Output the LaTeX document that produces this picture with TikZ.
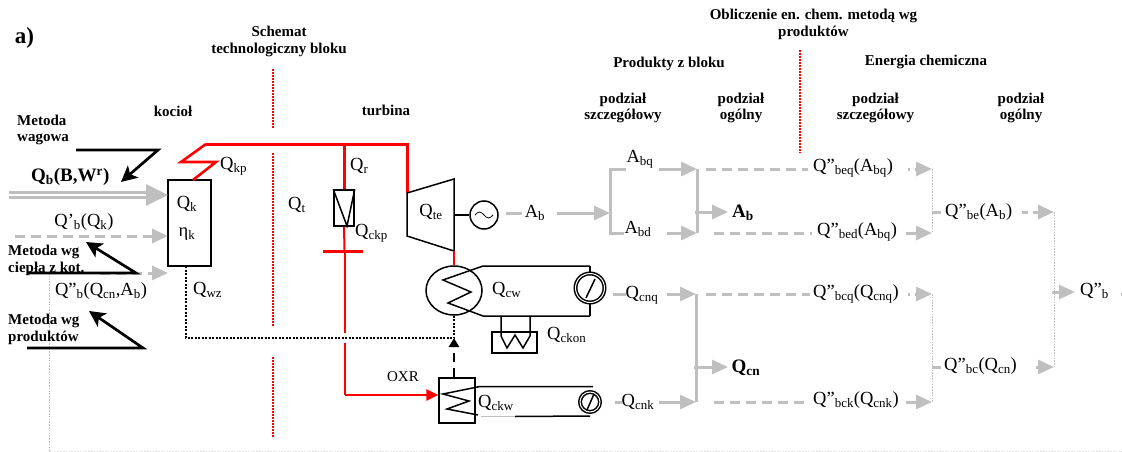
\documentclass[tikz,border=0pt]{standalone}
\usepackage{fontspec}
\setmainfont{Liberation Serif}
\usetikzlibrary{arrows.meta,shapes.geometric}
\definecolor{lightbar}{HTML}{BFBFBF}
\definecolor{hotline}{HTML}{FF0000}
\tikzset{
	lab/.style={font=\fontsize{18.5}{18.5}\selectfont, inner sep=0pt},
	labb/.style={font=\bfseries\fontsize{19}{19}\selectfont, inner sep=0pt},
	head/.style={font=\bfseries\fontsize{15}{16.5}\selectfont, align=center, inner sep=0pt},
	headl/.style={font=\bfseries\fontsize{15}{16.5}\selectfont, align=left, inner sep=0pt, anchor=west},
	bar/.style={lightbar, line width=3pt},
	barto/.style={bar, -{Triangle[length=16pt,width=14pt]}},
	dbar/.style={bar, dash pattern=on 10pt off 6pt},
	dbarto/.style={dbar, -{Triangle[length=16pt,width=14pt]}},
	dots/.style={lightbar, line width=1pt, dash pattern=on 1.6pt off 1.2pt},
	sep/.style={hotline, line width=2.2pt, dash pattern=on 2pt off 1pt},
	ink/.style={black, line width=1.5pt},
	pointer/.style={black, line width=2.7pt, -{Stealth[length=16pt,width=16pt,inset=4pt]}},
	steam/.style={hotline, line width=3pt},
	hot/.style={hotline, line width=2pt},
	dotline/.style={black, line width=1.5pt, dash pattern=on 2pt off 1.5pt},
}
\begin{document}
\begin{tikzpicture}[x=1pt, y=-1pt]
	\useasboundingbox (0,0) rectangle (1122,452);
	% headers
	\node[font=\bfseries\fontsize{23}{23}\selectfont, inner sep=0pt] (part) at (24.5,38) {a)};
	\node[head] (hschem) at (279,41.5) {Schemat\\technologiczny bloku};
	\node[head] (hcalc) at (813.5,24.5) {Obliczenie en. chem. metodą wg\\produktów};
	\node[head] (hprod) at (669,64) {Produkty z bloku};
	\node[head] (henergy) at (926,61.5) {Energia chemiczna};
	\node[head] (hboil) at (173,111) {kocioł};
	\node[head] (hturb) at (386,110) {turbina};
	\node[head] (hd1) at (623,108) {podział\\szczegółowy};
	\node[head] (hg1) at (741,108) {podział\\ogólny};
	\node[head] (hd2) at (875.5,108) {podział\\szczegółowy};
	\node[head] (hg2) at (1021,108) {podział\\ogólny};
	% red separators
	\coordinate (s1a) at (273,69);
	\coordinate (s1b) at (273,128);
	\coordinate (s2a) at (273,153);
	\coordinate (s2b) at (273,327);
	\coordinate (s3a) at (273,357);
	\coordinate (s3b) at (273,437);
	\coordinate (s4a) at (800,50);
	\coordinate (s4b) at (800,153);
	\draw[sep] (s1a) -- (s1b);
	\draw[sep] (s2a) -- (s2b);
	\draw[sep] (s3a) -- (s3b);
	\draw[sep] (s4a) -- (s4b);
	% boiler
	\node[draw, ink, minimum width=43pt, minimum height=86pt, inner sep=0pt] (boiler) at (189.5,223) {};
	\node[lab] (qk) at (187,204) {Q\textsubscript{k}};
	\node[lab] (eta) at (187,234) {η\textsubscript{k}};
	\node[lab, anchor=west] (qkp) at (220,166) {Q\textsubscript{kp}};
	\node[lab, anchor=west] (qwz) at (193,290) {Q\textsubscript{wz}};
	\node[lab, anchor=west] (qr) at (350,166) {Q\textsubscript{r}};
	\node[lab, anchor=west] (qt) at (288,205) {Q\textsubscript{t}};
	\node[lab, anchor=west] (qckp) at (355,233) {Q\textsubscript{ckp}};
	% fuel inputs
	\node[labb, anchor=west] (qbw) at (31,177) {Q\textsubscript{b}(B,W\textsuperscript{r})};
	\node[lab] (qbp) at (84,222) {Q’\textsubscript{b}(Q\textsubscript{k})};
	\node[lab] (qbpp) at (101,291) {Q”\textsubscript{b}(Q\textsubscript{cn},A\textsubscript{b})};
	\coordinate (in1) at (9,195);
	\coordinate (in1t) at (147,195);
	\coordinate (in1e) at (168,195);
	\coordinate (in2) at (15,236);
	\coordinate (in2e) at (168,236);
	\coordinate (in3) at (100,273);
	\coordinate (in3e) at (168,273);
	\draw[lightbar, line width=3pt, double=white, double distance=1.2pt] (in1) -- (in1t);
	\draw[bar, -{Triangle[length=22pt,width=21pt]}] (in1t) -- (in1e);
	\draw[dbarto] (in2) -- (in2e);
	\draw[dbarto] (in3) -- (in3e);
	% gray frame of the last balance
	\coordinate (fr1) at (49,273);
	\coordinate (fr2) at (49,451);
	\coordinate (fr3) at (1122,451);
	\draw[dots] (fr1) -- (fr2);
	\draw[dots, lightbar!45] (fr2) -- (fr3);
	% method pointers
	\node[headl] (mw) at (17,130) {Metoda\\wagowa};
	\node[headl] (mc) at (8,260.5) {Metoda wg\\ciepła z kot.};
	\node[headl] (mp) at (8,329.5) {Metoda wg\\produktów};
	\coordinate (p1a) at (76,150);
	\coordinate (p1b) at (158,150);
	\coordinate (p1c) at (121,182);
	\coordinate (p2a) at (27,273);
	\coordinate (p2b) at (136,273);
	\coordinate (p2c) at (86,242);
	\coordinate (p3a) at (27,348);
	\coordinate (p3b) at (143,348);
	\coordinate (p3c) at (89,311);
	\draw[pointer] (p1a) -- (p1b) -- (p1c);
	\draw[pointer] (p2a) -- (p2b) -- (p2c);
	\draw[pointer] (p3a) -- (p3b) -- (p3c);
	% steam lines
	\coordinate (k1) at (193,180);
	\coordinate (k2) at (216,162);
	\coordinate (k3) at (181,162);
	\coordinate (k4) at (206,144);
	\coordinate (k5) at (407,144);
	\coordinate (tin) at (407,193);
	\coordinate (rt) at (344,144);
	\draw[hotline, line width=2.6pt] (k1) -- (k2) -- (k3) -- (k4);
	\draw[steam, line join=miter] (k4) -- (k5) -- (tin);
	% regenerative heater
	\node[draw, ink, minimum width=20pt, minimum height=36pt, inner sep=0pt] (reg) at (344,208) {};
	\draw[steam] (rt) -- (reg.north);
	\draw[ink] (reg.north west) -- (347,226) -- (reg.north east);
	\coordinate (barw) at (323,251);
	\coordinate (bare) at (363,251);
	\coordinate (barm) at (344.5,251);
	\coordinate (hgap1) at (344.5,333);
	\coordinate (hgap2) at (344.5,343);
	\coordinate (hend) at (344.5,395);
	\draw[hot] (reg.south) -- (barm);
	\draw[hotline, line width=3pt] (barw) -- (bare);
	\draw[hot] (barm) -- (hgap1);
	\draw[hot] (hgap2) -- (hend);
	% turbine
	\coordinate (ta) at (454,179);
	\coordinate (tb) at (454,251);
	\coordinate (tc) at (407,236);
	\coordinate (tm) at (454,215);
	\draw[ink] (tin) -- (ta) -- (tb) -- (tc) -- cycle;
	\node[lab] (qte) at (431,212) {Q\textsubscript{te}};
	\node[draw, ink, circle, minimum size=28pt, inner sep=0pt] (gen) at (484,215) {};
	\draw[ink] (tm) -- (gen);
	\draw[black, line width=0.8pt] (475,215) sin (479.5,212) cos (484,215) sin (488.5,218) cos (493,215);
	% condenser
	\node[draw, ink, ellipse, minimum width=56pt, minimum height=49pt, inner sep=0pt] (cond) at (454,290.5) {};
	\draw[hot] (tb) -- (cond.north);
	\node[lab, anchor=west] (qcw) at (492,290) {Q\textsubscript{cw}};
	\coordinate (z1) at (483,266);
	\coordinate (z2) at (443,280);
	\coordinate (z3) at (471,292);
	\coordinate (z4) at (448,303);
	\coordinate (z5) at (483,316);
	\coordinate (c1) at (590,266);
	\coordinate (c2) at (590,316);
	\draw[ink] (c1) -- (z1) -- (z2) -- (z3) -- (z4) -- (z5) -- (c2);
	\node[draw, ink, circle, minimum size=29pt, inner sep=0pt, double, double distance=1pt] (pumpa) at (590,288) {};
	\draw[ink] (c1) -- (pumpa);
	\draw[ink] (c2) -- (pumpa);
	\draw[ink] (586,298) -- (595,279);
	% condensate cooler
	\node[draw, ink, minimum width=45pt, minimum height=21pt, inner sep=0pt] (kon) at (514.5,342.5) {};
	\node[lab, anchor=west] (qckon) at (547,335) {Q\textsubscript{ckon}};
	\coordinate (w0) at (501,316);
	\coordinate (w1) at (501,336);
	\coordinate (w2) at (507,348);
	\coordinate (w3) at (515,335);
	\coordinate (w4) at (523,348);
	\coordinate (w5) at (530,336);
	\coordinate (w6) at (530,316);
	\draw[ink] (w0) -- (w1) -- (w2) -- (w3) -- (w4) -- (w5) -- (w6);
	% oxygen plant
	\node[draw, ink, minimum width=36pt, minimum height=45pt, inner sep=0pt] (oxr) at (457,400.5) {};
	\node[font=\fontsize{15}{15}\selectfont, inner sep=0pt] (oxrl) at (403,377) {OXR};
	\node[lab, anchor=west] (qckw) at (478,403) {Q\textsubscript{ckw}};
	\draw[hotline, line width=2.8pt, -{Triangle[length=12pt,width=11pt]}] (hend) -- (oxr.west |- hend);
	\coordinate (y1) at (480,386.5);
	\coordinate (y2) at (443,394);
	\coordinate (y3) at (469,401);
	\coordinate (y4) at (447,409);
	\coordinate (y5) at (478,415);
	\coordinate (d1) at (593,386.5);
	\coordinate (d2) at (590,416);
	\coordinate (d0) at (481,416.5);
	\coordinate (d3) at (515,416.5);
	\draw[ink] (d1) -- (y1) -- (y2) -- (y3) -- (y4) -- (y5);
	\draw[lightbar, line width=1pt] (d0) -- (d3);
	\draw[ink] (d3) -- (d2);
	\node[draw, ink, circle, minimum size=20pt, inner sep=0pt, double, double distance=1pt] (pumpb) at (590,402) {};
	\draw[ink] (587,410) -- (594,394);
	% waste heat return
	\coordinate (wz1) at (186,266);
	\coordinate (wz2) at (186,338);
	\coordinate (wz3) at (454,338);
	\draw[dotline] (wz1) -- (wz2) -- (wz3);
	\draw[dotline] (cond.south) -- (wz3);
	\draw[black, line width=2.8pt, dash pattern=on 9pt off 6pt, -{Triangle[length=9pt,width=10pt]}] (oxr.north -| wz3) -- (wz3);
	% electricity branch
	\node[lab] (ab) at (535,213) {A\textsubscript{b}};
	\node[lab] (abq) at (640,159) {A\textsubscript{bq}};
	\node[lab] (abd) at (638,229) {A\textsubscript{bd}};
	\node[labb] (abt) at (743,213) {A\textsubscript{b}};
	\coordinate (ga) at (506,213);
	\coordinate (gb) at (522,213);
	\coordinate (gc) at (557,213);
	\coordinate (j1) at (610,213);
	\coordinate (j1a) at (610,169);
	\coordinate (j1b) at (610,233);
	\coordinate (a1) at (626,169);
	\coordinate (a2) at (659,169);
	\coordinate (a3) at (697,169);
	\coordinate (a4) at (624,233);
	\coordinate (a5) at (667,233);
	\coordinate (a6) at (697,233);
	\coordinate (a7) at (695,212);
	\coordinate (a8) at (728,212);
	\draw[bar] (ga) -- (gb);
	\draw[barto] (gc) -- (j1);
	\draw[bar, line join=miter] (a1) -- (j1a) -- (j1b) -- (a4);
	\draw[barto] (a2) -- (a3);
	\draw[barto] (a5) -- (a6);
	\draw[bar] (a3) -- (a6);
	\draw[barto] (a7) -- (a8);
	% condenser and cooler heat branch
	\node[lab] (qcnq) at (642,295) {Q\textsubscript{cnq}};
	\node[lab] (qcnk) at (638,402) {Q\textsubscript{cnk}};
	\node[labb] (qcn) at (746,368) {Q\textsubscript{cn}};
	\coordinate (n1) at (613,294);
	\coordinate (n2) at (626,294);
	\coordinate (n3) at (667,294);
	\coordinate (n4) at (696,294);
	\coordinate (n5) at (615,402);
	\coordinate (n6) at (622,402);
	\coordinate (n7) at (659,402);
	\coordinate (n8) at (696,402);
	\coordinate (n9) at (694,367);
	\coordinate (n10) at (728,367);
	\draw[bar] (n1) -- (n2);
	\draw[barto] (n3) -- (n4);
	\draw[bar] (n5) -- (n6);
	\draw[barto] (n7) -- (n8);
	\draw[bar] (n4) -- (n8);
	\draw[barto] (n9) -- (n10);
	% chemical energy, detailed
	\node[lab, anchor=west] (qbeq) at (813,168) {Q”\textsubscript{beq}(A\textsubscript{bq})};
	\node[lab, anchor=west] (qbed) at (817,232) {Q”\textsubscript{bed}(A\textsubscript{bq})};
	\node[lab, anchor=west] (qbcq) at (813,294) {Q”\textsubscript{bcq}(Q\textsubscript{cnq})};
	\node[lab, anchor=west] (qbck) at (813,400) {Q”\textsubscript{bck}(Q\textsubscript{cnk})};
	\coordinate (e1) at (706,169);
	\coordinate (e2) at (808,169);
	\coordinate (e3) at (714,233);
	\coordinate (e4) at (812,233);
	\coordinate (e5) at (706,294);
	\coordinate (e6) at (810,294);
	\coordinate (e7) at (714,402);
	\coordinate (e8) at (810,402);
	\draw[dbar] (e1) -- (e2);
	\draw[dbar] (e3) -- (e4);
	\draw[dbar] (e5) -- (e6);
	\draw[dbar] (e7) -- (e8);
	\coordinate (f1) at (908,169);
	\coordinate (f2) at (932,169);
	\coordinate (f3) at (906,233);
	\coordinate (f4) at (932,233);
	\coordinate (f5) at (908,294);
	\coordinate (f6) at (932,294);
	\coordinate (f7) at (906,402);
	\coordinate (f8) at (932,402);
	\draw[dbarto, dash pattern=on 2pt off 5pt] (f1) -- (f2);
	\draw[barto] (f3) -- (f4);
	\draw[dbarto, dash pattern=on 2pt off 5pt] (f5) -- (f6);
	\draw[barto] (f7) -- (f8);
	\draw[dots] (f2) -- (f4);
	\draw[dots] (f6) -- (f8);
	% chemical energy, general
	\node[lab, anchor=west] (qbe) at (945,212) {Q”\textsubscript{be}(A\textsubscript{b})};
	\node[lab, anchor=west] (qbc) at (944,366) {Q”\textsubscript{bc}(Q\textsubscript{cn})};
	\node[lab, anchor=west] (qbt) at (1080,291) {Q”\textsubscript{b}};
	\coordinate (h1) at (932,212);
	\coordinate (h2) at (941,212);
	\coordinate (h3) at (932,367);
	\coordinate (h4) at (941,367);
	\coordinate (h5) at (1022,212);
	\coordinate (h6) at (1054,212);
	\coordinate (h7) at (1036,367);
	\coordinate (h8) at (1054,367);
	\coordinate (h9) at (1052,292);
	\coordinate (h10) at (1075,292);
	\coordinate (h11) at (1120.5,294);
	\coordinate (h12) at (1122,294);
	\draw[bar] (h1) -- (h2);
	\draw[bar] (h3) -- (h4);
	\draw[dbarto, dash pattern=on 6pt off 5pt] (h5) -- (h6);
	\draw[barto] (h7) -- (h8);
	\draw[dots] (h6) -- (h8);
	\draw[barto] (h9) -- (h10);
	\draw[bar] (h11) -- (h12);
\end{tikzpicture}
\end{document}
